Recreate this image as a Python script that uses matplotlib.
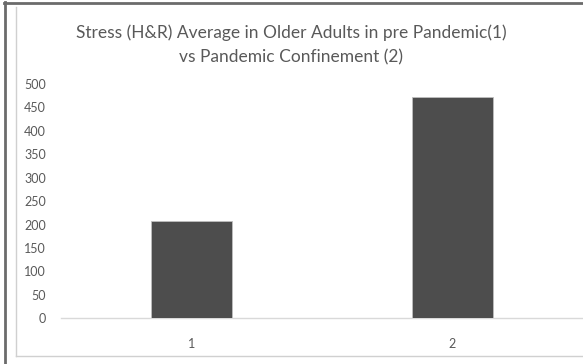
import matplotlib.pyplot as plt
from matplotlib.lines import Line2D

# Data
categories = ['1', '2']
stress_avg = [207, 472]
y_ticks = [0, 50, 100, 150, 200, 250, 300, 350, 400, 450, 500]

W, H = 583, 364
fig = plt.figure(figsize=(W / 100, H / 100), dpi=100)
fig.patch.set_facecolor('white')

# plot area in pixel coordinates
left, right = 61, 582.5
bottom, top = 318.3, 84
ax = fig.add_axes([left / W, (H - bottom) / H, (right - left) / W, (bottom - top) / H])

x = [1, 2]
ax.bar(x, stress_avg, width=0.31, color='#4d4d4d', edgecolor='#bfbfbf', linewidth=0.6, zorder=3)

ax.set_xlim(0.5, 2.5)
ax.set_ylim(0, 500)
ax.set_xticks(x)
ax.set_xticklabels(categories)
ax.set_yticks(y_ticks)

for s in ['top', 'right', 'left']:
    ax.spines[s].set_visible(False)
ax.spines['bottom'].set_color('#d9d9d9')
ax.spines['bottom'].set_linewidth(1.0)
ax.tick_params(axis='both', length=0, labelsize=9, colors='#595959', labelfontfamily='Lato')
ax.tick_params(axis='x', pad=14)
ax.tick_params(axis='y', pad=11)

fig.text(291 / W, 1 - 33 / H, 'Stress (H&R) Average in Older Adults in pre Pandemic(1)',
         ha='center', va='center', fontsize=12.5, color='#595959', family='Lato')
fig.text(291 / W, 1 - 57 / H, 'vs Pandemic Confinement (2)',
         ha='center', va='center', fontsize=12.5, color='#595959', family='Lato')

# frame lines around the chart (dark outer, light inner)
def px_line(xs, ys, color, lw):
    fig.add_artist(Line2D([v / W for v in xs], [1 - v / H for v in ys],
                          color=color, linewidth=lw, transform=fig.transFigure))

px_line([5, 5], [2, 364], '#6b6b6b', 2.0)
px_line([4, 583], [3, 3], '#6b6b6b', 2.0)
px_line([16, 16], [7, 356], '#d0d0d0', 1.0)
px_line([16, 583], [356, 356], '#d0d0d0', 1.0)

fig.savefig('out.png', dpi=100)
